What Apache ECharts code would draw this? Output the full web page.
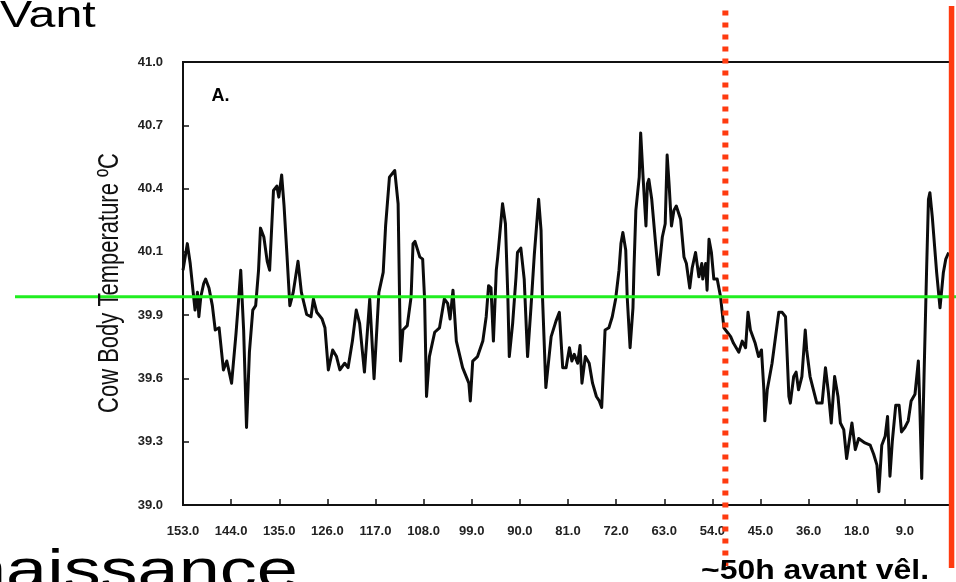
<!DOCTYPE html>
<html>
<head>
<meta charset="utf-8">
<script src="https://cdn.jsdelivr.net/npm/echarts@6/dist/echarts.min.js"></script>
<style>
  html, body { margin: 0; padding: 0; background: #ffffff; }
  #chart { width: 956px; height: 582px; }
</style>
</head>
<body>
<div id="chart"></div>
<script>
// Hours-before-calving labels, one per axis slot (left to right)
const xTickLabels = ['153.0', '144.0', '135.0', '126.0', '117.0', '108.0', '99.0', '90.0',
  '81.0', '72.0', '63.0', '54.0', '45.0', '36.0', '18.0', '9.0', ''];

// Temperature tick labels (7 equal steps from 39 to 41 °C)
const yTickLabels = ['39.0', '39.3', '39.6', '39.9', '40.1', '40.4', '40.7', '41.0'];

// Position of each reading along the time axis, in axis slots
const slotPos = [
  0.00, 0.09, 0.15, 0.25, 0.30, 0.33, 0.37, 0.43, 0.47, 0.54,
  0.61, 0.67, 0.75, 0.84, 0.91, 1.01, 1.10, 1.15, 1.20, 1.26,
  1.32, 1.38, 1.45, 1.51, 1.57, 1.61, 1.68, 1.75, 1.80, 1.88,
  1.95, 1.99, 2.05, 2.10, 2.16, 2.22, 2.29, 2.39, 2.46, 2.57,
  2.66, 2.71, 2.78, 2.89, 2.95, 3.02, 3.11, 3.19, 3.26, 3.36,
  3.43, 3.52, 3.60, 3.67, 3.77, 3.88, 3.97, 4.07, 4.16, 4.21,
  4.29, 4.40, 4.47, 4.52, 4.57, 4.66, 4.74, 4.78, 4.82, 4.92,
  4.98, 5.02, 5.06, 5.12, 5.23, 5.33, 5.43, 5.50, 5.55, 5.61,
  5.68, 5.81, 5.94, 5.97, 6.02, 6.12, 6.23, 6.30, 6.35, 6.40,
  6.45, 6.51, 6.54, 6.64, 6.70, 6.75, 6.78, 6.85, 6.92, 6.95,
  7.02, 7.09, 7.16, 7.23, 7.30, 7.39, 7.44, 7.47, 7.54, 7.65,
  7.75, 7.82, 7.89, 7.96, 8.03, 8.08, 8.13, 8.20, 8.25, 8.29,
  8.36, 8.44, 8.51, 8.59, 8.65, 8.70, 8.77, 8.85, 8.92, 8.99,
  9.06, 9.10, 9.14, 9.20, 9.23, 9.29, 9.35, 9.37, 9.41, 9.48,
  9.51, 9.56, 9.62, 9.65, 9.68, 9.74, 9.82, 9.88, 9.96, 10.02,
  10.06, 10.10, 10.15, 10.20, 10.25, 10.34, 10.41, 10.46, 10.53, 10.58,
  10.65, 10.72, 10.78, 10.80, 10.86, 10.89, 10.93, 10.98, 11.03, 11.10,
  11.17, 11.20, 11.24, 11.31, 11.38, 11.44, 11.55, 11.62, 11.69, 11.74,
  11.79, 11.89, 11.96, 12.02, 12.07, 12.09, 12.14, 12.24, 12.38, 12.45,
  12.52, 12.59, 12.62, 12.69, 12.74, 12.79, 12.86, 12.93, 12.96, 13.03,
  13.10, 13.17, 13.28, 13.35, 13.41, 13.47, 13.54, 13.61, 13.66, 13.73,
  13.79, 13.90, 13.97, 14.04, 14.17, 14.28, 14.35, 14.42, 14.46, 14.52,
  14.59, 14.64, 14.69, 14.74, 14.81, 14.88, 14.93, 15.00, 15.07, 15.13,
  15.21, 15.28, 15.31, 15.35, 15.40, 15.45, 15.49, 15.52, 15.57, 15.66,
  15.73, 15.80, 15.85, 15.91
];

// Cow body temperature (°C) at each position
const bodyTemp = [
  40.06, 40.18, 40.09, 39.88, 39.96, 39.85, 39.94, 40.00, 40.02, 39.98,
  39.90, 39.79, 39.80, 39.61, 39.65, 39.55, 39.77, 39.91, 40.06, 39.79,
  39.35, 39.69, 39.88, 39.90, 40.06, 40.25, 40.21, 40.10, 40.06, 40.42,
  40.44, 40.39, 40.49, 40.35, 40.13, 39.90, 39.96, 40.10, 39.96, 39.86,
  39.85, 39.93, 39.87, 39.84, 39.80, 39.61, 39.70, 39.67, 39.61, 39.64,
  39.62, 39.74, 39.88, 39.82, 39.60, 39.93, 39.57, 39.96, 40.05, 40.26,
  40.48, 40.51, 40.36, 39.65, 39.79, 39.81, 39.94, 40.18, 40.19, 40.12,
  40.11, 39.93, 39.49, 39.67, 39.78, 39.80, 39.93, 39.91, 39.84, 39.97,
  39.74, 39.62, 39.55, 39.47, 39.65, 39.67, 39.74, 39.85, 39.99, 39.98,
  39.74, 40.06, 40.12, 40.36, 40.27, 39.94, 39.67, 39.82, 40.03, 40.14,
  40.16, 40.02, 39.67, 39.89, 40.13, 40.38, 40.24, 39.94, 39.53, 39.76,
  39.83, 39.87, 39.62, 39.62, 39.71, 39.65, 39.68, 39.64, 39.72, 39.55,
  39.67, 39.64, 39.55, 39.49, 39.47, 39.44, 39.79, 39.80, 39.85, 39.93,
  40.06, 40.18, 40.23, 40.15, 39.94, 39.71, 39.89, 40.06, 40.33, 40.48,
  40.68, 40.48, 40.26, 40.45, 40.47, 40.38, 40.18, 40.04, 40.21, 40.27,
  40.58, 40.45, 40.26, 40.33, 40.35, 40.29, 40.12, 40.09, 39.98, 40.07,
  40.14, 40.03, 40.09, 40.02, 40.09, 39.97, 40.20, 40.14, 40.02, 40.02,
  39.94, 39.88, 39.80, 39.78, 39.76, 39.73, 39.69, 39.74, 39.71, 39.87,
  39.79, 39.73, 39.67, 39.70, 39.52, 39.38, 39.52, 39.64, 39.87, 39.87,
  39.85, 39.49, 39.46, 39.58, 39.60, 39.52, 39.58, 39.79, 39.70, 39.58,
  39.52, 39.46, 39.46, 39.62, 39.51, 39.37, 39.58, 39.49, 39.37, 39.34,
  39.21, 39.37, 39.25, 39.30, 39.28, 39.27, 39.23, 39.18, 39.06, 39.27,
  39.31, 39.40, 39.13, 39.29, 39.45, 39.45, 39.33, 39.35, 39.38, 39.47,
  39.50, 39.65, 39.45, 39.12, 39.60, 40.05, 40.38, 40.41, 40.30, 40.05,
  39.89, 40.05, 40.11, 40.14
];

// Reference levels
const baselineTemp = 39.94;   // normal body temperature
const warningSlot = 11.27;    // about 50 h before calving
const calvingSlot = 15.97;    // calving

const TEMP_MIN = 39, TEMP_MAX = 41;
const yTickValues = yTickLabels.map((_, i) => TEMP_MIN + i * (TEMP_MAX - TEMP_MIN) / (yTickLabels.length - 1));

const FONT = '"Liberation Sans", Arial, Helvetica, sans-serif';
const INK = '#111111';
const RED = '#ff3b10';

const chart = echarts.init(document.getElementById('chart'), null, { renderer: 'canvas' });

chart.setOption({
  animation: false,
  backgroundColor: '#ffffff',
  grid: {
    left: 183, right: 1, top: 62, bottom: 77,
    show: true, borderColor: INK, borderWidth: 2, backgroundColor: 'transparent'
  },
  xAxis: {
    type: 'value',
    min: 0, max: xTickLabels.length - 1, interval: 1,
    axisLine: { lineStyle: { color: INK, width: 2 } },
    axisTick: { inside: true, length: 6, lineStyle: { color: INK, width: 1.5 } },
    splitLine: { show: false },
    axisLabel: {
      margin: 20,
      color: '#222222',
      fontFamily: FONT, fontSize: 13, fontWeight: 'bold',
      formatter: v => xTickLabels[Math.round(v)] || ''
    }
  },
  yAxis: {
    type: 'value',
    min: TEMP_MIN, max: TEMP_MAX,
    axisLine: { show: true, lineStyle: { color: INK, width: 2 } },
    axisTick: { show: true, inside: true, length: 6, customValues: yTickValues,
      lineStyle: { color: INK, width: 1.5 } },
    splitLine: { show: false },
    axisLabel: {
      margin: 20,
      color: '#222222',
      fontFamily: FONT, fontSize: 13, fontWeight: 'bold',
      customValues: yTickValues,
      formatter: v => yTickLabels[Math.round((v - TEMP_MIN) / (TEMP_MAX - TEMP_MIN) * (yTickLabels.length - 1))]
    }
  },
  series: [{
    type: 'line',
    data: slotPos.map((p, i) => [p, bodyTemp[i]]),
    showSymbol: false,
    lineStyle: { color: '#0c0c0c', width: 3, join: 'round' },
    z: 3
  }]
});

// Overlay: reference lines and slide captions
const gy = chart.convertToPixel({ gridIndex: 0 }, [0, baselineTemp])[1];
const wx = chart.convertToPixel({ gridIndex: 0 }, [warningSlot, TEMP_MIN])[0];
const cx = chart.convertToPixel({ gridIndex: 0 }, [calvingSlot, TEMP_MIN])[0];

function caption(text, x, y, size, opts) {
  const o = opts || {};
  return {
    type: 'text', x: x, y: y, z: 120,
    rotation: o.rotation || 0,
    scaleX: o.scaleX || 1, scaleY: o.scaleY || 1,
    style: {
      text: text,
      fill: o.fill || '#000000',
      font: (o.weight || 'normal') + ' ' + size + 'px ' + FONT,
      align: o.align || 'left', textAlign: o.align || 'left',
      verticalAlign: 'middle', textVerticalAlign: 'middle'
    }
  };
}

chart.setOption({
  graphic: [
    { type: 'line', z: 100, shape: { x1: 15, y1: gy, x2: 956, y2: gy },
      style: { stroke: '#20ee20', lineWidth: 3 } },
    { type: 'line', z: 110, shape: { x1: wx, y1: 10.5, x2: wx, y2: 566 },
      style: { stroke: RED, lineWidth: 6, lineDash: [5, 7], lineCap: 'butt' } },
    { type: 'line', z: 110, shape: { x1: cx, y1: 6, x2: cx, y2: 568 },
      style: { stroke: RED, lineWidth: 5.5 } },
    caption('A.', 211.5, 96, 18, { weight: 'bold' }),
    caption('Cow Body Temperature ºC', 110, 283, 22, { rotation: Math.PI / 2, scaleY: 1.33, align: 'center', fill: INK }),
    caption('Vant', 0, 17, 36.6, { scaleX: 1.32 }),
    caption('naissance', -35, 573, 56, { scaleX: 1.32 }),
    caption('~50h avant vêl.', 701, 570.8, 28, { weight: 'bold', scaleX: 1.14 })
  ]
});
</script>
</body>
</html>
